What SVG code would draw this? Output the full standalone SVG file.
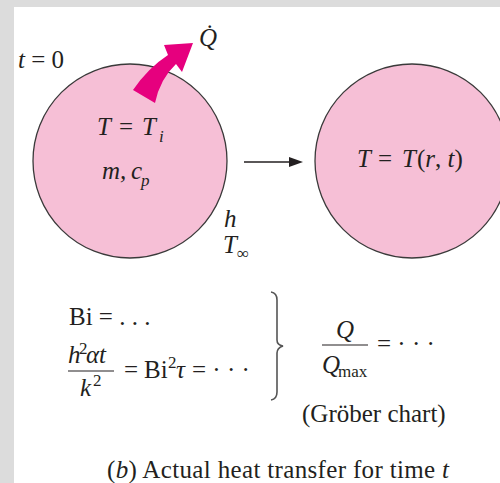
<svg xmlns="http://www.w3.org/2000/svg" width="500" height="483" viewBox="0 0 500 483">
<style>
.t{font-family:"Liberation Serif","Times New Roman",serif;fill:#231f20;font-size:25px}
.i{font-style:italic}
.s{font-size:17px}
.body{fill:#f6bfd6;stroke:#3a3a3a;stroke-width:1.3}
</style>
<rect x="0" y="0" width="500" height="483" fill="#dcdcdc"/>
<rect x="14" y="7" width="486" height="476" fill="#ffffff"/>
<g id="initial">
<circle class="body" cx="130" cy="161" r="97"/>
<text class="t i" x="97" y="135">T</text>
<text class="t" x="119" y="135">=</text>
<text class="t i" x="142" y="135">T</text>
<text class="t i s" x="159" y="142">i</text>
<text class="t i" x="102" y="179">m,</text>
<text class="t i" x="131" y="179">c</text>
<text class="t i s" x="141" y="186">p</text>
</g>
<g id="heatflow">
<path d="M133,90 Q148,68 168,55 L164,45 L193,43 L182,72 L176,64 Q160,79 155,103 Z" fill="#e6007e"/>
<text class="t i" x="199" y="46">Q̇</text>
</g>
<g id="labels">
<text class="t" x="18" y="68"><tspan class="i">t</tspan> = 0</text>
<text class="t i" x="224" y="227">h</text>
<text class="t i" x="223" y="253">T</text>
<text class="t s" x="237" y="259">∞</text>
</g>
<g id="final">
<circle class="body" cx="412" cy="161" r="97"/>
<text class="t i" x="357" y="167">T</text>
<text class="t" x="378" y="167">=</text>
<text class="t i" x="402" y="167">T</text>
<text class="t" x="417" y="167">(<tspan class="i">r</tspan>, <tspan class="i">t</tspan>)</text>
</g>
<g id="connectors">
<line x1="244" y1="162" x2="292" y2="162" stroke="#231f20" stroke-width="1.5"/>
<polygon points="289,157 303,162 289,167" fill="#231f20"/>
</g>
<g id="equations">
<text class="t" x="69" y="325">Bi = . . .</text>
<text class="t i" x="68" y="363">h</text>
<text class="t s" x="79" y="354">2</text>
<text class="t i" x="86" y="363">αt</text>
<line x1="68" y1="371" x2="114" y2="371" stroke="#231f20" stroke-width="1.2"/>
<text class="t i" x="80" y="396">k</text>
<text class="t s" x="93" y="386">2</text>
<text class="t" x="124" y="378">=</text>
<text class="t" x="144" y="378">Bi</text>
<text class="t s" x="168" y="368">2</text>
<text class="t i" x="176" y="378">τ</text>
<text class="t" x="192" y="378">= · · ·</text>
<path d="M271,292 Q277,293 277,300 L277,340 Q277,345 283,346 Q277,348 277,353 L277,392 Q277,399 271,400" fill="none" stroke="#555" stroke-width="1.6"/>
<text class="t i" x="336" y="338">Q</text>
<line x1="322" y1="345" x2="368" y2="345" stroke="#231f20" stroke-width="1.2"/>
<text class="t i" x="322" y="373">Q</text>
<text class="t s" x="338" y="377">max</text>
<text class="t" x="377" y="352">= · · ·</text>
<text class="t" x="302" y="422">(Gröber chart)</text>
<text class="t" x="107" y="478" textLength="342">(<tspan class="i">b</tspan>) Actual heat transfer for time <tspan class="i">t</tspan></text>
</g>
</svg>
